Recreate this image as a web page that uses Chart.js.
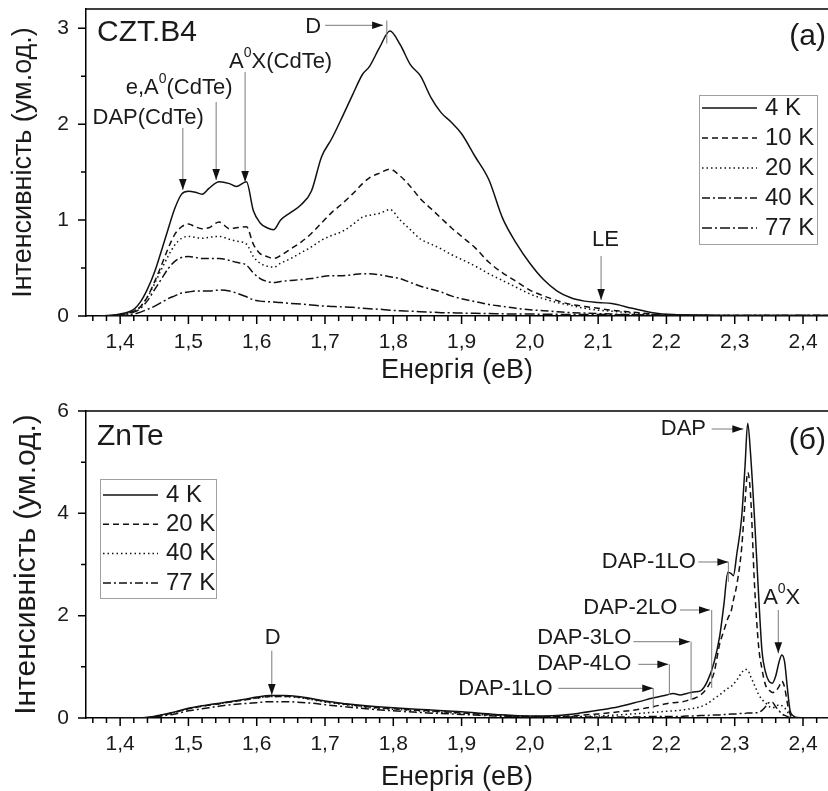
<!DOCTYPE html>
<html>
<head>
<meta charset="utf-8">
<script src="https://cdn.jsdelivr.net/npm/chart.js@4.4.1/dist/chart.umd.min.js"></script>
<style>
  html, body { margin: 0; padding: 0; background: #fff; }
  canvas { position: absolute; left: 0; }
  #czt { top: 0; }
  #znte { top: 395px; }
</style>
</head>
<body>
<canvas id="czt" width="828" height="395"></canvas>
<canvas id="znte" width="828" height="396"></canvas>
<script>
'use strict';

// shared x axis
const energyTicks = [1.4, 1.5, 1.6, 1.7, 1.8, 1.9, 2.0, 2.1, 2.2, 2.3, 2.4];

// panel (a) CZT.B4
const energyCzt = [1.37, 1.38, 1.40, 1.42, 1.43, 1.44, 1.45, 1.46, 1.47, 1.48,
  1.49, 1.50, 1.51, 1.52, 1.53, 1.545, 1.56, 1.57, 1.585, 1.595,
  1.605, 1.615, 1.625, 1.635, 1.65, 1.665, 1.68, 1.695, 1.71, 1.725,
  1.74, 1.755, 1.765, 1.78, 1.795, 1.81, 1.825, 1.84, 1.855, 1.87,
  1.885, 1.90, 1.92, 1.94, 1.96, 1.98, 2.00, 2.02, 2.04, 2.06,
  2.08, 2.10, 2.12, 2.15, 2.18, 2.21, 2.25, 2.30, 2.35, 2.40,
  2.44];
const czt4K = [0, 0.005, 0.02, 0.07, 0.15, 0.28, 0.45, 0.67, 0.90, 1.12,
  1.27, 1.30, 1.29, 1.27, 1.33, 1.40, 1.38, 1.35, 1.40, 1.10,
  0.97, 0.92, 0.90, 1.00, 1.08, 1.16, 1.30, 1.66, 1.85, 2.07,
  2.30, 2.52, 2.60, 2.80, 2.97, 2.83, 2.62, 2.50, 2.28, 2.12,
  2.02, 1.90, 1.66, 1.42, 1.02, 0.76, 0.55, 0.38, 0.26, 0.19,
  0.155, 0.14, 0.13, 0.08, 0.035, 0.015, 0.01, 0.005, 0.005, 0.005,
  0.005];
const czt10K = [0, 0, 0.015, 0.05, 0.10, 0.20, 0.35, 0.52, 0.70, 0.85,
  0.93, 0.96, 0.93, 0.91, 0.92, 0.98, 0.91, 0.92, 0.93, 0.75,
  0.65, 0.62, 0.60, 0.63, 0.70, 0.77, 0.86, 0.97, 1.08, 1.17,
  1.27, 1.38, 1.44, 1.49, 1.53, 1.46, 1.35, 1.22, 1.12, 1.02,
  0.92, 0.83, 0.71, 0.56, 0.45, 0.36, 0.27, 0.21, 0.16, 0.12,
  0.10, 0.08, 0.06, 0.04, 0.02, 0.01, 0.005, 0.005, 0.005, 0.005,
  0.005];
const czt20K = [0, 0, 0.015, 0.05, 0.10, 0.20, 0.33, 0.48, 0.62, 0.74,
  0.81, 0.83, 0.82, 0.81, 0.82, 0.83, 0.80, 0.78, 0.75, 0.62,
  0.55, 0.52, 0.51, 0.55, 0.60, 0.66, 0.72, 0.79, 0.84, 0.88,
  0.95, 1.03, 1.05, 1.07, 1.11, 1.00, 0.90, 0.80, 0.75, 0.70,
  0.64, 0.59, 0.52, 0.44, 0.37, 0.30, 0.23, 0.18, 0.14, 0.11,
  0.08, 0.06, 0.05, 0.03, 0.015, 0.008, 0.005, 0.005, 0.005, 0.005,
  0.005];
const czt40K = [0, 0, 0.01, 0.04, 0.08, 0.16, 0.27, 0.38, 0.49, 0.57,
  0.61, 0.62, 0.61, 0.60, 0.60, 0.60, 0.58, 0.56, 0.53, 0.45,
  0.39, 0.36, 0.35, 0.36, 0.37, 0.38, 0.39, 0.41, 0.42, 0.42,
  0.43, 0.44, 0.44, 0.43, 0.41, 0.39, 0.35, 0.31, 0.28, 0.25,
  0.21, 0.18, 0.15, 0.12, 0.10, 0.08, 0.065, 0.055, 0.045, 0.035,
  0.03, 0.025, 0.02, 0.015, 0.01, 0.008, 0.005, 0.005, 0.005, 0.005,
  0.005];
const czt77K = [0, 0, 0.005, 0.02, 0.04, 0.07, 0.10, 0.14, 0.18, 0.21,
  0.24, 0.25, 0.26, 0.26, 0.26, 0.27, 0.26, 0.24, 0.20, 0.17,
  0.155, 0.15, 0.145, 0.14, 0.13, 0.125, 0.115, 0.105, 0.10, 0.095,
  0.09, 0.08, 0.075, 0.07, 0.06, 0.055, 0.05, 0.045, 0.04, 0.035,
  0.033, 0.03, 0.028, 0.025, 0.023, 0.02, 0.02, 0.018, 0.017, 0.016,
  0.015, 0.015, 0.014, 0.012, 0.01, 0.008, 0.005, 0.005, 0.005, 0.005,
  0.005];
const cztTicks = [0, 1, 2, 3];

// panel (б) ZnTe
const energyZnte = [1.38, 1.40, 1.42, 1.44, 1.46, 1.48, 1.50, 1.52, 1.55, 1.58,
  1.60, 1.62, 1.64, 1.66, 1.68, 1.70, 1.73, 1.76, 1.80, 1.85,
  1.90, 1.95, 2.00, 2.04, 2.07, 2.10, 2.13, 2.16, 2.18, 2.20,
  2.21, 2.22, 2.23, 2.24, 2.25, 2.26, 2.27, 2.278, 2.284, 2.29,
  2.295, 2.298, 2.303, 2.31, 2.315, 2.319, 2.323, 2.329, 2.335, 2.34,
  2.345, 2.35, 2.355, 2.36, 2.365, 2.369, 2.373, 2.377, 2.381, 2.386,
  2.392, 2.42, 2.44];
const znte4K = [0, 0, 0, 0.01, 0.06, 0.12, 0.19, 0.24, 0.30, 0.36,
  0.41, 0.44, 0.44, 0.42, 0.38, 0.33, 0.28, 0.24, 0.20, 0.16,
  0.12, 0.07, 0.04, 0.05, 0.09, 0.15, 0.22, 0.32, 0.39, 0.45,
  0.48, 0.45, 0.48, 0.51, 0.53, 0.72, 1.10, 1.60, 2.20, 2.85,
  2.82, 2.78, 3.20, 3.90, 4.90, 5.76, 5.20, 3.90, 2.40, 1.30,
  0.90, 0.72, 0.68, 0.82, 1.10, 1.23, 1.10, 0.60, 0.15, 0.04,
  0.01, 0, 0];
const znte20K = [0, 0, 0, 0.01, 0.05, 0.11, 0.18, 0.23, 0.29, 0.35,
  0.39, 0.42, 0.42, 0.41, 0.37, 0.32, 0.27, 0.22, 0.18, 0.14,
  0.10, 0.06, 0.03, 0.03, 0.05, 0.08, 0.12, 0.17, 0.22, 0.28,
  0.30, 0.31, 0.34, 0.38, 0.45, 0.60, 0.90, 1.45, 1.70, 1.95,
  2.10, 2.30, 2.60, 3.30, 4.20, 4.80, 4.40, 2.60, 1.40, 0.95,
  0.65, 0.55, 0.50, 0.52, 0.62, 0.72, 0.60, 0.30, 0.08, 0.02,
  0.005, 0, 0];
const znte40K = [0, 0, 0, 0.01, 0.05, 0.11, 0.18, 0.23, 0.29, 0.35,
  0.39, 0.42, 0.42, 0.40, 0.36, 0.31, 0.26, 0.21, 0.17, 0.13,
  0.09, 0.05, 0.03, 0.03, 0.03, 0.04, 0.06, 0.09, 0.11, 0.13,
  0.14, 0.15, 0.17, 0.19, 0.22, 0.28, 0.38, 0.45, 0.52, 0.58,
  0.62, 0.66, 0.74, 0.88, 0.95, 0.94, 0.82, 0.64, 0.46, 0.36,
  0.30, 0.23, 0.20, 0.22, 0.26, 0.24, 0.20, 0.12, 0.05, 0.01,
  0, 0, 0];
const znte77K = [0, 0, 0, 0.01, 0.04, 0.08, 0.14, 0.18, 0.24, 0.28,
  0.30, 0.32, 0.32, 0.31, 0.29, 0.26, 0.22, 0.18, 0.14, 0.10,
  0.07, 0.04, 0.02, 0.02, 0.02, 0.02, 0.02, 0.02, 0.03, 0.03,
  0.03, 0.03, 0.04, 0.04, 0.05, 0.05, 0.06, 0.06, 0.07, 0.07,
  0.08, 0.08, 0.08, 0.09, 0.09, 0.10, 0.10, 0.10, 0.11, 0.15,
  0.22, 0.30, 0.31, 0.22, 0.14, 0.08, 0.05, 0.03, 0.01, 0,
  0, 0, 0];
const znteTicks = [0, 2, 4, 6];

const FONT = '"Liberation Sans", Arial, sans-serif';
const INK = '#1a1a1a';
const SOLID = [];
const DASHED = [6, 4];
const DOTTED = [1.5, 3];
const DASHDOT = [8, 3, 2, 3];
const DASHDOT2 = [10, 3, 2, 3];

function arrow(ctx, x1, y1, x2, y2) {
  ctx.strokeStyle = '#7a7a7a';
  ctx.lineWidth = 1;
  ctx.beginPath();
  ctx.moveTo(x1, y1);
  ctx.lineTo(x2, y2);
  ctx.stroke();
  const a = Math.atan2(y2 - y1, x2 - x1);
  const L = 11, W = 3.8;
  ctx.fillStyle = '#111';
  ctx.beginPath();
  ctx.moveTo(x2, y2);
  ctx.lineTo(x2 - L * Math.cos(a) + W * Math.sin(a), y2 - L * Math.sin(a) - W * Math.cos(a));
  ctx.lineTo(x2 - L * Math.cos(a) - W * Math.sin(a), y2 - L * Math.sin(a) + W * Math.cos(a));
  ctx.closePath();
  ctx.fill();
}

// parts: plain strings, or [string] for a superscript
function richText(ctx, parts, x, y, size, align) {
  const main = size + 'px ' + FONT;
  const sup = Math.round(size * 0.62) + 'px ' + FONT;
  let w = 0;
  parts.forEach(p => {
    ctx.font = Array.isArray(p) ? sup : main;
    w += ctx.measureText(Array.isArray(p) ? p[0] : p).width;
  });
  let px = align === 'left' ? x : align === 'right' ? x - w : x - w / 2;
  ctx.textAlign = 'left';
  ctx.textBaseline = 'middle';
  ctx.fillStyle = INK;
  parts.forEach(p => {
    const s = Array.isArray(p);
    const t = s ? p[0] : p;
    ctx.font = s ? sup : main;
    ctx.fillText(t, px, s ? y - size * 0.4 : y);
    px += ctx.measureText(t).width;
  });
}

const decor = {
  id: 'decor',
  afterDraw(chart, args, o) {
    const { ctx, chartArea: a, scales: { x, y } } = chart;
    ctx.save();
    ctx.strokeStyle = '#000';
    ctx.lineWidth = 1.5;
    ctx.beginPath();
    ctx.moveTo(a.left - 0.75, a.top);
    ctx.lineTo(a.right, a.top);
    for (let k = 68; k <= 121; k++) {
      const px = x.getPixelForValue(k / 50);
      ctx.moveTo(px, a.bottom);
      ctx.lineTo(px, a.bottom + (k % 5 === 0 ? 8 : 5));
    }
    for (let k = 0; k <= 6; k++) {
      const py = y.getPixelForValue(k * o.yMinor);
      ctx.moveTo(a.left, py);
      ctx.lineTo(a.left - (k % 2 === 0 ? 8 : 5), py);
    }
    ctx.stroke();

    // marker lines and arrows
    (o.marks || []).forEach(m => {
      ctx.strokeStyle = '#7a7a7a';
      ctx.lineWidth = 1;
      ctx.beginPath();
      ctx.moveTo(x.getPixelForValue(m[0]), y.getPixelForValue(m[1]));
      ctx.lineTo(x.getPixelForValue(m[2]), y.getPixelForValue(m[3]));
      ctx.stroke();
    });
    (o.arrows || []).forEach(m => {
      arrow(ctx, x.getPixelForValue(m[0]), y.getPixelForValue(m[1]),
        x.getPixelForValue(m[2]), y.getPixelForValue(m[3]));
    });
    (o.notes || []).forEach(n => {
      richText(ctx, n.parts, x.getPixelForValue(n.x), y.getPixelForValue(n.y), 22, 'center');
    });

    // panel names
    richText(ctx, [o.name], a.left + 11, a.top + o.nameY, 30, 'left');
    richText(ctx, [o.tag], chart.width - 2, a.top + o.nameY + 4, 30, 'right');

    // legend box
    const L = o.legend;
    ctx.strokeStyle = '#a0a0a0';
    ctx.lineWidth = 1;
    ctx.strokeRect(L.left + 0.5, L.top + 0.5, L.width, L.height);
    chart.data.datasets.forEach((ds, i) => {
      const ry = L.top + L.first + i * L.step;
      ctx.strokeStyle = '#111';
      ctx.lineWidth = 1.5;
      ctx.setLineDash(ds.borderDash);
      ctx.beginPath();
      ctx.moveTo(L.left + 3, ry);
      ctx.lineTo(L.left + 58, ry);
      ctx.stroke();
      ctx.setLineDash([]);
      richText(ctx, [ds.label], L.left + 66, ry, 24, 'left');
    });
    ctx.restore();
  }
};

function makeChart(id, cfg) {
  const ctx = document.getElementById(id).getContext('2d');
  const datasets = cfg.series.map(s => ({
    label: s[0],
    data: cfg.energy.map((e, i) => ({ x: e, y: s[1][i] })),
    borderColor: '#111',
    borderWidth: 1.5,
    borderDash: s[2],
    pointRadius: 0,
    fill: false,
    cubicInterpolationMode: 'monotone'
  }));
  return new Chart(ctx, {
    type: 'line',
    data: { datasets: datasets },
    options: {
      responsive: false,
      animation: false,
      layout: { padding: { top: cfg.top, left: 0, right: 0, bottom: 0 } },
      plugins: {
        legend: { display: false },
        tooltip: { enabled: false },
        decor: cfg.decor
      },
      scales: {
        x: {
          type: 'linear',
          min: 1.35,
          max: 2.4366,
          afterBuildTicks: s => { s.ticks = energyTicks.map(v => ({ value: v })); },
          afterFit: s => { s.height = cfg.xHeight; s.paddingLeft = 0; s.paddingRight = 0; },
          grid: { display: false, drawTicks: false },
          border: { display: true, color: '#000', width: 1.5 },
          ticks: {
            padding: 13.5, color: INK, maxRotation: 0, autoSkip: false,
            font: { family: FONT, size: 21 },
            callback: v => v.toFixed(1).replace('.', ',')
          },
          title: {
            display: true, text: 'Енергія (eВ)', color: INK,
            font: { family: FONT, size: 27, lineHeight: 1 },
            padding: { top: 0, bottom: cfg.xTitlePad }
          }
        },
        y: {
          type: 'linear',
          min: 0,
          max: cfg.yMax,
          afterBuildTicks: s => { s.ticks = cfg.yTicks.map(v => ({ value: v })); },
          afterFit: s => { s.width = 86; s.paddingTop = 0; s.paddingBottom = 0; },
          grid: { display: false, drawTicks: false },
          border: { display: true, color: '#000', width: 1.5 },
          ticks: {
            padding: 17, color: INK,
            font: { family: FONT, size: 21 }
          },
          title: {
            display: true, text: 'Інтенсивність (ум.од.)', color: INK,
            font: { family: FONT, size: cfg.yTitleSize, lineHeight: 1 },
            padding: { top: cfg.yTitlePad, bottom: 0 }
          }
        }
      }
    },
    plugins: [decor]
  });
}

makeChart('czt', {
  energy: energyCzt,
  series: [
    ['4 K', czt4K, SOLID],
    ['10 K', czt10K, DASHED],
    ['20 K', czt20K, DOTTED],
    ['40 K', czt40K, DASHDOT],
    ['77 K', czt77K, DASHDOT2]
  ],
  top: 9, xHeight: 79, xTitlePad: 10.5, yMax: 3.2, yTicks: cztTicks,
  yTitleSize: 27, yTitlePad: 10.5,
  decor: {
    yMinor: 0.5,
    name: 'CZT.B4', tag: '(a)', nameY: 24,
    legend: { left: 699, top: 95, width: 118, height: 149, first: 13, step: 30 },
    notes: [
      { parts: ['D'], x: 1.6826, y: 3.01 },
      { parts: ['A', ['0'], 'X(CdTe)'], x: 1.635, y: 2.643 },
      { parts: ['e,A', ['0'], '(CdTe)'], x: 1.4864, y: 2.377 },
      { parts: ['DAP(CdTe)'], x: 1.441, y: 2.065 },
      { parts: ['LE'], x: 2.1108, y: 0.7925 }
    ],
    marks: [[1.7905, 3.08, 1.7905, 2.84]],
    arrows: [
      [1.7001, 3.03, 1.7851, 3.03],
      [1.583, 2.544, 1.583, 1.397],
      [1.5406, 2.23, 1.5406, 1.418],
      [1.4918, 1.96, 1.4918, 1.314],
      [2.1043, 0.626, 2.1043, 0.167]
    ]
  }
});

makeChart('znte', {
  energy: energyZnte,
  series: [
    ['4 K', znte4K, SOLID],
    ['20 K', znte20K, DASHED],
    ['40 K', znte40K, DOTTED],
    ['77 K', znte77K, DASHDOT]
  ],
  top: 16, xHeight: 73, xTitlePad: 0, yMax: 6, yTicks: znteTicks,
  yTitleSize: 30, yTitlePad: 12,
  decor: {
    yMinor: 1,
    name: 'ZnTe', tag: '(б)', nameY: 26,
    legend: { left: 100, top: 84, width: 116, height: 119, first: 16, step: 29.3 },
    notes: [
      { parts: ['D'], x: 1.6233, y: 1.563 },
      { parts: ['DAP'], x: 2.2248, y: 5.648 },
      { parts: ['DAP-1LO'], x: 2.1743, y: 3.049 },
      { parts: ['DAP-2LO'], x: 2.1472, y: 2.159 },
      { parts: ['DAP-3LO'], x: 2.0796, y: 1.573 },
      { parts: ['DAP-4LO'], x: 2.0796, y: 1.055 },
      { parts: ['DAP-1LO'], x: 1.9642, y: 0.567 },
      { parts: ['A', ['0'], 'X'], x: 2.3688, y: 2.345 }
    ],
    marks: [
      [2.2907, 3.049, 2.2907, 2.658],
      [2.2663, 2.111, 2.2663, 0.586],
      [2.2361, 1.491, 2.2361, 0.35],
      [2.2043, 1.049, 2.2043, 0.449],
      [2.1807, 0.58, 2.1807, 0.19]
    ],
    arrows: [
      [1.6221, 1.315, 1.6221, 0.449],
      [2.2663, 5.648, 2.3126, 5.648],
      [2.2467, 3.049, 2.2907, 3.049],
      [2.2199, 2.111, 2.2638, 2.111],
      [2.1516, 1.491, 2.2346, 1.491],
      [2.1589, 1.049, 2.2028, 1.049],
      [2.0417, 0.58, 2.1807, 0.58],
      [2.3638, 2.111, 2.3638, 1.264]
    ]
  }
});
</script>
</body>
</html>
